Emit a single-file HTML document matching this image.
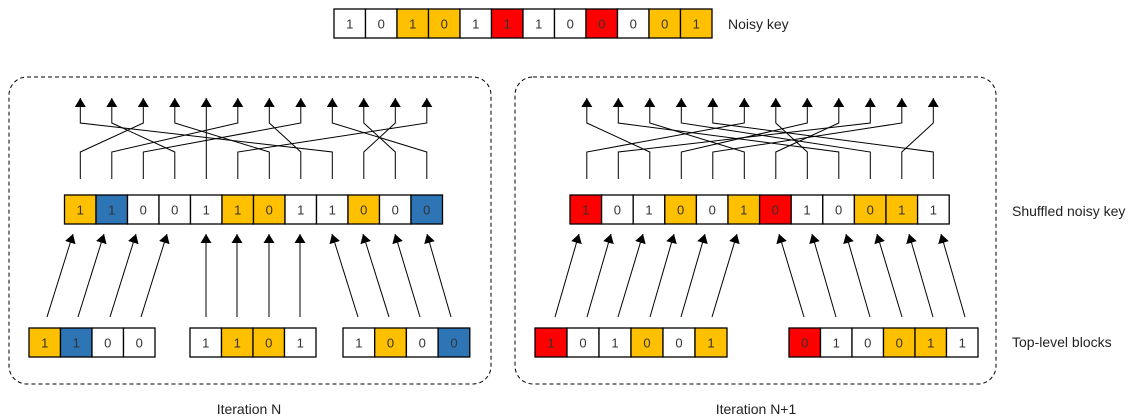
<!DOCTYPE html>
<html><head><meta charset="utf-8"><style>
html,body{margin:0;padding:0;background:#fff;}
svg{display:block;font-family:"Liberation Sans","DejaVu Sans",sans-serif;}
</style></head><body>
<svg id="s" width="1139" height="419" xmlns="http://www.w3.org/2000/svg">
<defs>
<marker id="b" viewBox="0 0 9 11" markerWidth="9" markerHeight="11" refX="9" refY="5.5" orient="auto" markerUnits="userSpaceOnUse"><path d="M0,0 L9,5.5 L0,11 Z" fill="#000"/></marker></defs>
<rect x="9" y="77" width="482" height="307" rx="18" fill="none" stroke="#000" stroke-dasharray="4,3"/>
<rect x="515" y="77" width="481" height="307" rx="18" fill="none" stroke="#000" stroke-dasharray="4,3"/>
<g font-size="14" fill="#222">
<text x="728" y="29">Noisy key</text>
<text x="1012" y="216">Shuffled noisy key</text>
<text x="1012" y="347">Top-level blocks</text>
<text x="249" y="414" text-anchor="middle">Iteration N</text>
<text x="756" y="414" text-anchor="middle">Iteration N+1</text>
</g>
<g id="g"></g>
</svg>
<script>
var g=document.getElementById('g'),h='';
var C={o:'#FFC000',b:'#2E75B6',r:'#FF0000',w:'#fff'};
function row(x,y,w,hh,cells){cells.forEach(function(c,i){var v=c[0],col=C[c[1]||'w'];
h+='<rect x="'+(x+i*w)+'" y="'+y+'" width="'+w+'" height="'+hh+'" fill="'+col+'" stroke="#000" stroke-width="1.3"/>';
h+='<text x="'+(x+i*w+w/2)+'" y="'+(y+hh/2+5)+'" text-anchor="middle" font-size="13" fill="#333">'+v+'</text>';});}
function P(s){return s.split(' ');}
row(334,9,31.5,29,P('1 0 1o 0o 1 1r 1 0 0r 0 0o 1o'));
row(64.5,195,31.5,29,P('1o 1b 0 0 1 1o 0o 1 1 0o 0 0b'));
row(570,195,31.6,29,P('1r 0 1 0o 0 1o 0r 1 0 0o 1o 1'));
row(29,328,31.5,29,P('1o 1b 0 0'));row(190,328,31.5,29,P('1 1o 0o 1'));row(343,328,31.7,29,P('1 0o 0 0b'));
row(535,328,32,29,P('1r 0 1 0o 0 1o'));row(789,328,31.5,29,P('0r 1 0 0o 1o 1'));
function ln(x1,y1,x2,y2,m){h+='<line x1="'+x1+'" y1="'+y1+'" x2="'+x2+'" y2="'+y2+'" stroke="#000" stroke-width="1"'+(m?' marker-end="url(#b)"':'')+'/>';}
function shuf(x0,w,map){
 for(var t=0;t<12;t++){var xt=x0+t*w,xb=x0+map[t]*w;
  h+='<polyline points="'+xb+',179 '+xb+',152 '+xt+',123 '+xt+',98" fill="none" stroke="#000" stroke-width="1" marker-end="url(#b)"/>';}}
shuf(80.3,31.5,[8,3,0,6,4,1,7,2,11,10,9,5]);
shuf(586.8,31.5,[2,8,5,9,11,0,7,3,6,1,4,10]);
[[47,73],[78,104],[110,136],[141,167],[206,206],[237,237],[269,269],[300,300],[358,332],[389,363],[420,395],[451,427],
 [555,579],[587,611],[618,643],[650,674],[681,705],[712,737],[804,779],[836,812],[870,846],[902,877],[933,909],[965,941]].forEach(function(p){ln(p[0],317,p[1],234,1);});
g.innerHTML=h;
</script>
</body></html>
